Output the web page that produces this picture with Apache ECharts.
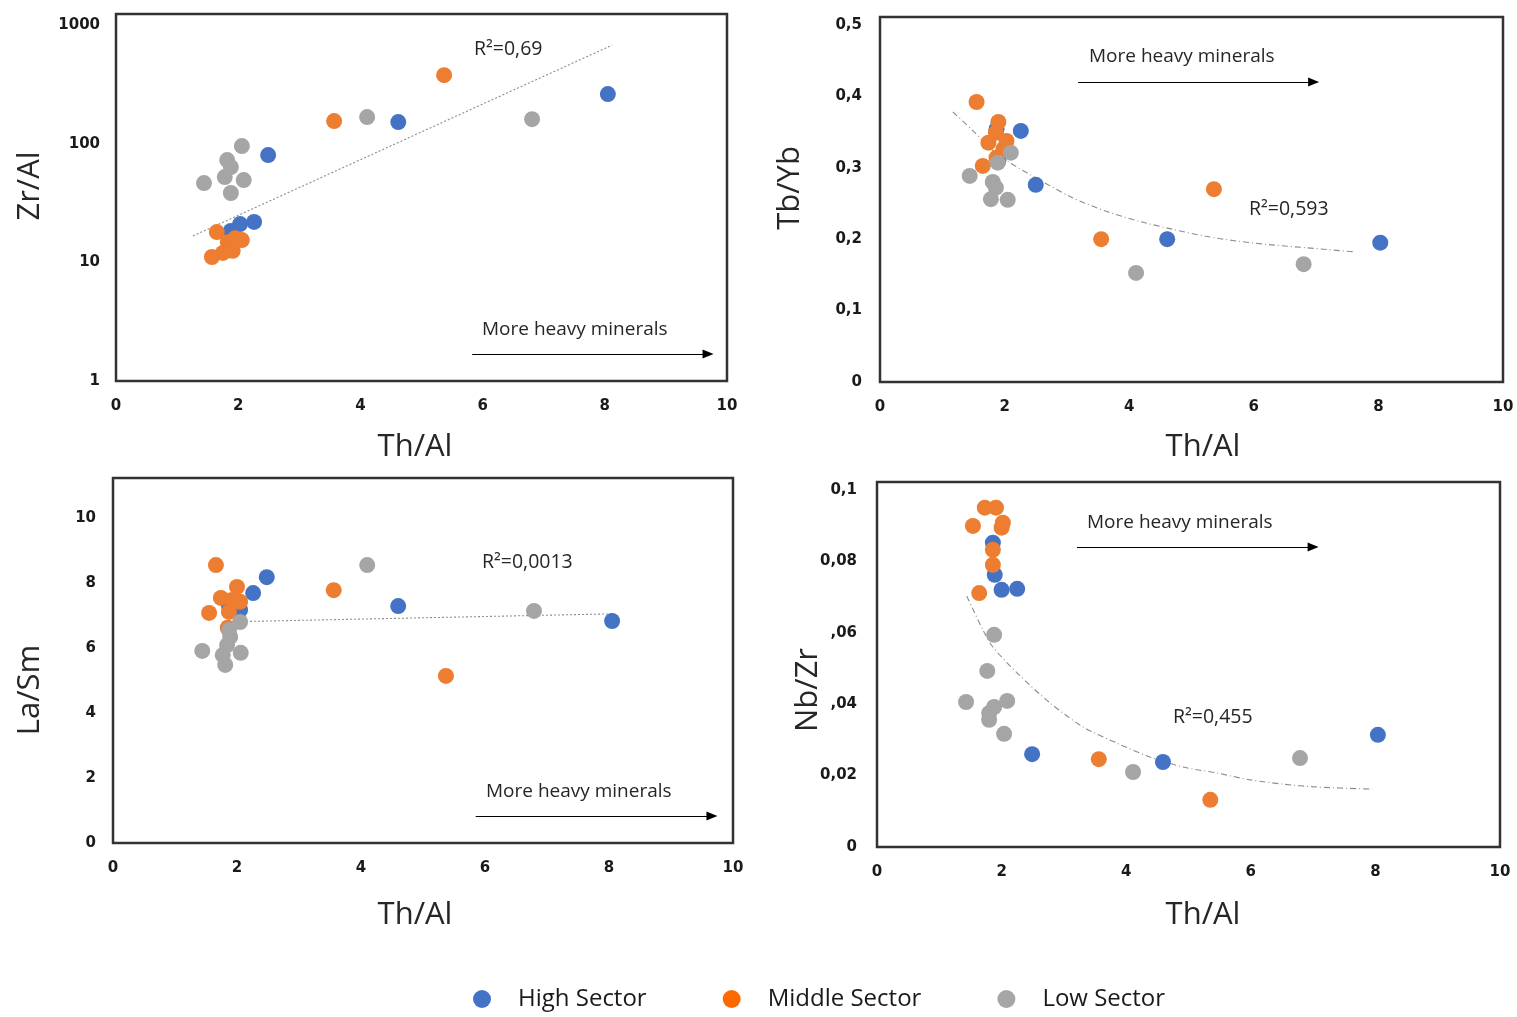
<!DOCTYPE html>
<html><head><meta charset="utf-8">
<script src="https://cdn.jsdelivr.net/npm/echarts@6/dist/echarts.min.js"></script>
<style>html,body{margin:0;padding:0;background:#fff}#c{width:1517px;height:1017px}</style>
</head><body><div id="c"></div><script>
// ---- data (Th/Al on x) ----
const xTicks = [0, 2, 4, 6, 8, 10];
const seriesNames = ['High Sector', 'Middle Sector', 'Low Sector'];

// Panel 1: Zr/Al (log)
const p1High   = [[1.88,18.4],[2.03,21],[2.26,21.9],[2.49,80.2],[4.62,152],[8.05,262]];
const p1Middle = [[1.57,11.1],[1.65,18],[1.75,12],[1.83,14.8],[1.87,13.2],[1.91,12.5],[1.95,16],[2.06,15.4],[3.57,155],[5.37,378]];
const p1Low    = [[1.44,46.6],[1.78,52.3],[1.82,72.8],[1.88,63.5],[1.88,38.4],[2.06,95.5],[2.09,49.4],[4.11,167.5],[6.81,161]];
const p1Trend  = [[1.26,16.7],[8.12,677]];
const p1Ticks  = ['1','10','100','1000'];

// Panel 2: Tb/Yb
const p2High   = [[1.87,0.354],[1.9,0.31],[2.26,0.3515],[2.5,0.276],[4.61,0.2],[8.03,0.195]];
const p2Middle = [[1.55,0.392],[1.65,0.3025],[1.74,0.335],[1.86,0.349],[1.87,0.314],[1.9,0.364],[1.98,0.326],[2.03,0.3375],[3.55,0.2],[5.36,0.27]];
const p2Low    = [[1.44,0.2885],[1.78,0.256],[1.81,0.28],[1.86,0.272],[1.89,0.307],[2.05,0.255],[2.1,0.321],[4.11,0.1527],[6.8,0.165]];
const p2Trend  = [[1.17,0.378],[1.49,0.352],[1.76,0.328],[2.03,0.31],[2.56,0.283],[3.09,0.258],[3.63,0.239],[4.16,0.225],[4.69,0.214],[5.23,0.204],[5.76,0.197],[6.29,0.192],[6.83,0.188],[7.63,0.182]];
const p2Ticks  = ['0','0,1','0,2','0,3','0,4','0,5'];

// Panel 3: La/Sm
const p3High   = [[1.87,7.3],[2.05,7.17],[2.26,7.69],[2.48,8.18],[4.6,7.29],[8.05,6.83]];
const p3Middle = [[1.55,7.08],[1.66,8.55],[1.74,7.54],[1.85,6.62],[1.87,7.11],[1.92,7.48],[2.0,7.88],[2.05,7.42],[3.56,7.78],[5.37,5.14]];
const p3Low    = [[1.44,5.91],[1.77,5.78],[1.81,5.48],[1.84,6.09],[1.87,6.55],[1.89,6.34],[2.05,6.8],[2.06,5.85],[4.1,8.55],[6.79,7.14]];
const p3Trend  = [[1.76,6.8],[8.05,7.05]];
const p3Ticks  = ['0','2','4','6','8','10'];

// Panel 4: Nb/Zr
const p4High   = [[1.86,0.0852],[1.89,0.0762],[2.0,0.072],[2.25,0.0723],[2.49,0.026],[4.59,0.0238],[8.04,0.0314]];
const p4Middle = [[1.54,0.0899],[1.64,0.0711],[1.73,0.095],[1.86,0.0832],[1.86,0.079],[1.91,0.095],[2.0,0.0894],[2.02,0.0908],[3.56,0.0246],[5.35,0.0132]];
const p4Low    = [[1.43,0.0406],[1.77,0.0493],[1.8,0.0375],[1.8,0.0356],[1.88,0.0594],[1.88,0.0392],[2.04,0.0317],[2.09,0.0409],[4.11,0.021],[6.79,0.0249]];
const p4Trend  = [[1.44,0.0703],[1.70,0.0608],[1.86,0.056],[2.25,0.0487],[2.78,0.0403],[3.31,0.0336],[3.85,0.0291],[4.38,0.0252],[4.91,0.0224],[5.46,0.0207],[5.99,0.0188],[6.52,0.0176],[7.06,0.0168],[7.95,0.0162]];
const p4Ticks  = ['0','0,02',',04',',06','0,08','0,1'];

const yTitles = ['Zr/Al','Tb/Yb','La/Sm','Nb/Zr'];
const rLabels = ['R²=0,69','R²=0,593','R²=0,0013','R²=0,455'];
const note = 'More heavy minerals';
// arrow endpoints in data coords (x0, x1, y)
const arrows = [[5.83,9.69,1.689],[3.18,6.96,0.42],[5.85,9.66,0.83],[3.21,7.0,0.084]];

// ---- styles ----
const colors = ['#4472C4','#ED7D31','#A5A5A5'];
const legendColors = ['#4472C4','#FF6A00','#A6A6A6'];
const FONT = 'Open Sans';
const labelStyle = {fontFamily: 'DejaVu Sans', fontWeight: 'bold', fontSize: 15, color: '#1a1a1a'};

const grids = [
  {left:116, top:14, width:611, height:367},
  {left:880, top:17, width:623, height:365},
  {left:113, top:478, width:620, height:365},
  {left:877, top:482, width:623, height:365}
];
const gridOpts = grids.map(g => Object.assign({show:true, borderColor:'#333333', borderWidth:2.5, backgroundColor:'#fff', outerBoundsMode:'none', containLabel:false}, g));

const xAxes = grids.map((g,i) => ({
  type:'value', gridIndex:i, min:0, max:10, interval:2,
  axisLine:{show:false}, axisTick:{show:false}, splitLine:{show:false},
  axisLabel:Object.assign({margin:18, formatter: v => String(v)}, labelStyle)
}));
const common = {axisLine:{show:false}, axisTick:{show:false}, splitLine:{show:false}};
const yAxes = [
  Object.assign({type:'log', logBase:10, gridIndex:0, min:1, max:1239,
    axisLabel:Object.assign({margin:16, showMaxLabel:false, formatter: v => {
      const k = Math.round(Math.log10(v)); return p1Ticks[k] !== undefined ? p1Ticks[k] : '';}}, labelStyle)}, common),
  Object.assign({type:'value', gridIndex:1, min:0, max:0.511, interval:0.1,
    axisLabel:Object.assign({margin:18, showMaxLabel:false, formatter: v => {
      const k = Math.round(v/0.1); return p2Ticks[k] !== undefined ? p2Ticks[k] : '';}}, labelStyle)}, common),
  Object.assign({type:'value', gridIndex:2, min:0, max:11.23, interval:2,
    axisLabel:Object.assign({margin:17, showMaxLabel:false, formatter: v => {
      const k = Math.round(v/2); return p3Ticks[k] !== undefined ? p3Ticks[k] : '';}}, labelStyle)}, common),
  Object.assign({type:'value', gridIndex:3, min:0, max:0.1022, interval:0.02,
    axisLabel:Object.assign({margin:20, showMaxLabel:false, formatter: v => {
      const k = Math.round(v/0.02); return p4Ticks[k] !== undefined ? p4Ticks[k] : '';}}, labelStyle)}, common)
];

const panels = [
  [p1High,p1Middle,p1Low,p1Trend,[2,2],false],
  [p2High,p2Middle,p2Low,p2Trend,[6,3,1,3],true],
  [p3High,p3Middle,p3Low,p3Trend,[2,2],false],
  [p4High,p4Middle,p4Low,p4Trend,[6,3,1,3],true]
];

const series = [];
panels.forEach((p,i) => {
  const a = arrows[i];
  series.push({
    type:'line', name:'trend'+i, xAxisIndex:i, yAxisIndex:i, data:p[3],
    showSymbol:false, symbol:'none', smooth:p[5] ? 0.3 : false, silent:true, z:1,
    lineStyle:{color:'#8c8c8c', width:1.1, type:p[4]},
    markLine:{silent:true, symbol:['none','triangle'], symbolSize:[9,11], label:{show:false},
      lineStyle:{color:'#000', width:1.2, type:'solid'},
      data:[[{coord:[a[0],a[2]]},{coord:[a[1],a[2]]}]]}
  });
  for (let s=0; s<3; s++) {
    series.push({
      type:'scatter', name:seriesNames[s], xAxisIndex:i, yAxisIndex:i, data:p[s],
      symbol:'circle', symbolSize:16, z:2,
      itemStyle:{color:colors[s], opacity:1},
      emphasis:{disabled:true}
    });
  }
});

const titleStyle = {fontFamily: FONT, fontSize: 31, fill: '#262626'};
const noteStyle = {fontFamily: FONT, fontSize: 19, fill: '#262626'};
const rStyle = {fontFamily: FONT, fontSize: 19.5, fill: '#262626'};
function txt(text, x, y, style, rot, align) {
  return {type:'text', x:x, y:y, rotation:rot||0, silent:true,
    style:Object.assign({text:text, align:align||'center', verticalAlign:'middle'}, style)};
}
const graphics = [
  txt(yTitles[0], 30, 186, titleStyle, Math.PI/2),
  txt(yTitles[1], 790, 188, titleStyle, Math.PI/2),
  txt(yTitles[2], 30, 690, titleStyle, Math.PI/2),
  txt(yTitles[3], 808, 690, titleStyle, Math.PI/2),
  txt('Th/Al', 415, 447, titleStyle),
  txt('Th/Al', 1203, 447, titleStyle),
  txt('Th/Al', 415, 915, titleStyle),
  txt('Th/Al', 1203, 915, titleStyle),
  txt(rLabels[0], 474, 49, rStyle, 0, 'left'),
  txt(rLabels[1], 1249, 209, rStyle, 0, 'left'),
  txt(rLabels[2], 482, 562, rStyle, 0, 'left'),
  txt(rLabels[3], 1173, 717, rStyle, 0, 'left'),
  txt(note, 482, 330, noteStyle, 0, 'left'),
  txt(note, 1089, 57, noteStyle, 0, 'left'),
  txt(note, 486, 792, noteStyle, 0, 'left'),
  txt(note, 1087, 523, noteStyle, 0, 'left')
];

const chart = echarts.init(document.getElementById('c'), null, {renderer:'canvas'});
chart.setOption({
  animation:false,
  backgroundColor:'#fff',
  grid:gridOpts,
  xAxis:xAxes,
  yAxis:yAxes,
  legend:{
    data:seriesNames.map((n,k) => ({name:n, itemStyle:{color:legendColors[k]}})),
    left:473, top:987, padding:0, icon:'circle', itemWidth:18, itemHeight:18, itemGap:76,
    selectedMode:false,
    textStyle:{fontFamily:FONT, fontSize:24, color:'#1a1a1a', padding:[0,0,0,22]}
  },
  series:series,
  graphic:graphics
});
</script></body></html>
